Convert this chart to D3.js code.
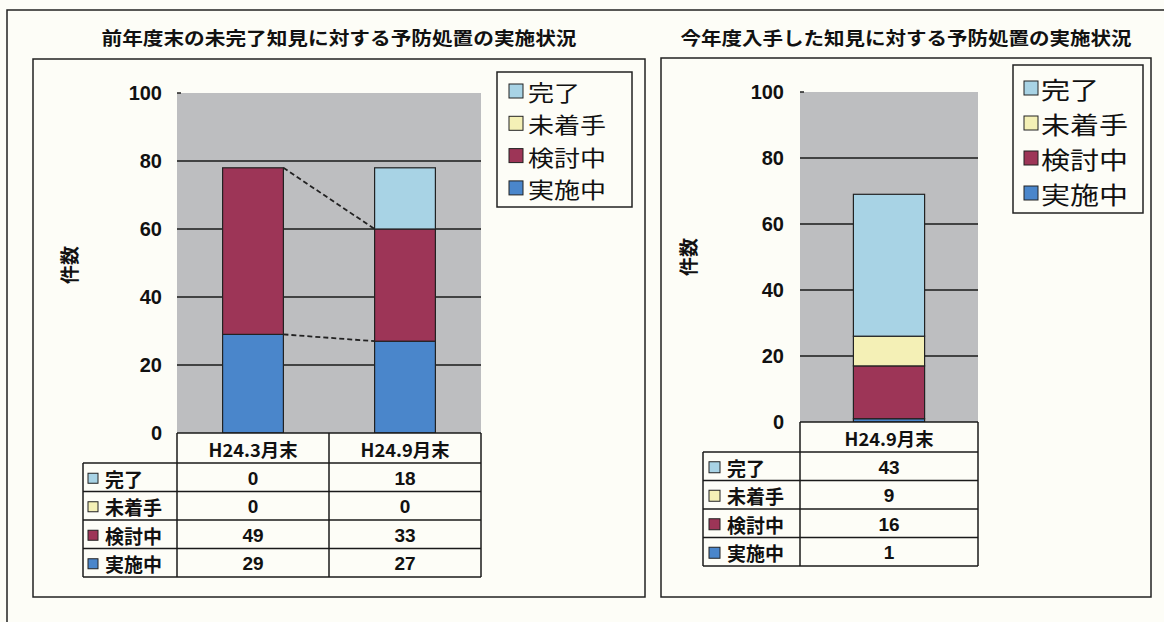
<!DOCTYPE html>
<html>
<head>
<meta charset="utf-8">
<script src="https://cdn.jsdelivr.net/npm/d3@7"></script>
<style>
  html, body { margin: 0; padding: 0; background: #fdfdf7; }
  svg { display: block; }
  text { font-family: "Noto Sans CJK JP", "Liberation Sans", sans-serif; fill: #111; }
</style>
</head>
<body>
<svg id="chart" width="1164" height="622"></svg>
<script>
// ---------------- DATA ----------------
const seriesNames = ["完了", "未着手", "検討中", "実施中"];        // legend / table order
const stackOrder = ["実施中", "検討中", "未着手", "完了"];         // bottom -> top
const seriesColors = ["#a8d3e5", "#f4f0b6", "#9d3557", "#4a86cb"];

const leftTitle = "前年度末の未完了知見に対する予防処置の実施状況";
const leftCategories = ["H24.3月末", "H24.9月末"];
const leftKanryo = [0, 18];
const leftMichakushu = [0, 0];
const leftKentochu = [49, 33];
const leftJisshichu = [29, 27];

const rightTitle = "今年度入手した知見に対する予防処置の実施状況";
const rightCategories = ["H24.9月末"];
const rightKanryo = [43];
const rightMichakushu = [9];
const rightKentochu = [16];
const rightJisshichu = [1];

const yTicks = [0, 20, 40, 60, 80, 100];
const yLabel = "件数";
const seriesLineNames = ["実施中", "検討中"];

// ---------------- DRAW ----------------
const svg = d3.select("#chart");
const color = d3.scaleOrdinal().domain(seriesNames).range(seriesColors);

// outer frame
svg.append("rect").attr("x", 7).attr("y", 10).attr("width", 1200).attr("height", 700)
  .attr("fill", "none").attr("stroke", "#222").attr("stroke-width", 1.5);

function buildRows(cats, arrs) {
  return cats.map((c, i) => {
    const o = { cat: c };
    seriesNames.forEach((s, k) => o[s] = arrs[k][i]);
    return o;
  });
}

function drawPanel(cfg) {
  const g = svg.append("g");
  // panel box
  g.append("rect").attr("x", cfg.box[0]).attr("y", cfg.box[1])
    .attr("width", cfg.box[2] - cfg.box[0]).attr("height", cfg.box[3] - cfg.box[1])
    .attr("fill", "none").attr("stroke", "#222").attr("stroke-width", 1.5);
  // title
  g.append("text").attr("x", (cfg.box[0] + cfg.box[2]) / 2).attr("y", 45)
    .attr("text-anchor", "middle").attr("font-size", 18).attr("font-weight", "bold")
    .attr("textLength", cfg.titleLen).attr("lengthAdjust", "spacingAndGlyphs")
    .text(cfg.title);

  const x = d3.scaleBand().domain(cfg.categories).range([cfg.plot[0], cfg.plot[1]]).padding(0);
  const y = d3.scaleLinear().domain([0, 100]).range([cfg.plot[3], cfg.plot[2]]);

  // plot background
  g.append("rect").attr("x", cfg.plot[0]).attr("y", y(100))
    .attr("width", cfg.plot[1] - cfg.plot[0]).attr("height", y(0) - y(100))
    .attr("fill", "#bdbec0");
  // small top tick
  g.append("line").attr("x1", cfg.plot[0]).attr("x2", cfg.plot[0] + 4)
    .attr("y1", y(100)).attr("y2", y(100)).attr("stroke", "#222").attr("stroke-width", 1.5);

  // gridlines
  g.append("g").selectAll("line").data(yTicks.filter(t => t > 0 && t < 100)).join("line")
    .attr("x1", cfg.plot[0]).attr("x2", cfg.plot[1])
    .attr("y1", d => y(d)).attr("y2", d => y(d))
    .attr("stroke", "#1a1a1a").attr("stroke-width", 1.5);

  // y axis labels
  const ax = g.append("g").attr("transform", `translate(${cfg.tickRight},0)`)
    .call(d3.axisLeft(y).tickValues(yTicks).tickSize(0).tickPadding(0));
  ax.select(".domain").remove();
  ax.selectAll("text").attr("font-size", 20).attr("font-weight", "bold")
    .style("font-family", "'Liberation Sans', Arial, sans-serif").attr("fill", "#111");

  // y label
  g.append("text").attr("transform", `translate(${cfg.yLabelPos[0]},${cfg.yLabelPos[1]}) rotate(-90)`)
    .attr("text-anchor", "middle").attr("dominant-baseline", "central")
    .attr("font-size", 19).attr("font-weight", "bold").text(yLabel);

  // stacked bars
  const rows = buildRows(cfg.categories, cfg.values);
  const stacked = d3.stack().keys(stackOrder)(rows);
  const bw = x.bandwidth() * 0.4;
  const bx = c => x(c) + (x.bandwidth() - bw) / 2;

  // series lines
  if (cfg.categories.length > 1) {
    stacked.filter(s => seriesLineNames.includes(s.key)).forEach(s => {
      for (let i = 0; i < s.length - 1; i++) {
        g.append("line")
          .attr("x1", bx(cfg.categories[i]) + bw).attr("y1", y(s[i][1]))
          .attr("x2", bx(cfg.categories[i + 1])).attr("y2", y(s[i + 1][1]))
          .attr("stroke", "#222").attr("stroke-width", 1.8).attr("stroke-dasharray", "5,3");
      }
    });
  }

  stacked.forEach(s => {
    g.append("g").selectAll("rect").data(s.filter(d => d[1] - d[0] > 0)).join("rect")
      .attr("x", d => bx(d.data.cat)).attr("width", bw)
      .attr("y", d => y(d[1])).attr("height", d => y(d[0]) - y(d[1]))
      .attr("fill", color(s.key)).attr("stroke", "#222").attr("stroke-width", 1.2);
  });

  // legend
  const lg = g.append("g");
  lg.append("rect").attr("x", cfg.legend.x0).attr("y", cfg.legend.y0)
    .attr("width", cfg.legend.x1 - cfg.legend.x0).attr("height", cfg.legend.y1 - cfg.legend.y0)
    .attr("fill", "#fdfdf7").attr("stroke", "#222").attr("stroke-width", 1.5);
  seriesNames.forEach((s, i) => {
    const cy = cfg.legend.firstY + i * cfg.legend.step;
    lg.append("rect").attr("x", cfg.legend.sqX).attr("y", cy - cfg.legend.sq / 2)
      .attr("width", cfg.legend.sq).attr("height", cfg.legend.sq)
      .attr("fill", color(s)).attr("stroke", "#222").attr("stroke-width", 1);
    lg.append("text").attr("x", cfg.legend.textX).attr("y", cy)
      .attr("dominant-baseline", "central").attr("font-size", cfg.legend.fs)
      .attr("textLength", s.length * cfg.legend.charW).attr("lengthAdjust", "spacingAndGlyphs")
      .text(s);
  });

  // data table
  const t = cfg.table;
  const tg = g.append("g");
  const x0 = cfg.plot[0], x1 = cfg.plot[1];
  const top = y(0);
  const rowsTop = top + t.headerH;
  const bottom = rowsTop + seriesNames.length * t.rowH;
  tg.append("rect").attr("x", x0).attr("y", top).attr("width", x1 - x0).attr("height", t.headerH)
    .attr("fill", "#fdfdf7");
  tg.append("rect").attr("x", t.labelX).attr("y", rowsTop).attr("width", x1 - t.labelX)
    .attr("height", bottom - rowsTop).attr("fill", "#fdfdf7");
  const ln = (a, b, c, d) => tg.append("line").attr("x1", a).attr("y1", b).attr("x2", c).attr("y2", d)
    .attr("stroke", "#1a1a1a").attr("stroke-width", 1.5);
  ln(x0, top, x1, top);
  ln(x0, top, x0, bottom);
  ln(x1, top, x1, bottom);
  ln(t.labelX, rowsTop, t.labelX, bottom);
  for (let i = 0; i <= seriesNames.length; i++) {
    ln(t.labelX, rowsTop + i * t.rowH, x1, rowsTop + i * t.rowH);
  }
  cfg.categories.slice(1).forEach(c => ln(x(c), top, x(c), bottom));
  cfg.categories.forEach(c => {
    tg.append("text").attr("x", x(c) + x.bandwidth() / 2).attr("y", top + t.headerH / 2 + 1)
      .attr("text-anchor", "middle").attr("dominant-baseline", "central")
      .attr("font-size", 18).attr("font-weight", "bold")
      .attr("textLength", 89).attr("lengthAdjust", "spacingAndGlyphs").text(c);
  });
  seriesNames.forEach((s, i) => {
    const cy = rowsTop + (i + 0.5) * t.rowH;
    tg.append("rect").attr("x", t.labelX + t.sqOff).attr("y", cy - t.sq / 2 + 1)
      .attr("width", t.sq).attr("height", t.sq)
      .attr("fill", color(s)).attr("stroke", "#222").attr("stroke-width", 1);
    tg.append("text").attr("x", t.labelX + t.textOff).attr("y", cy + 1)
      .attr("dominant-baseline", "central").attr("font-size", 19).attr("font-weight", "bold").text(s);
    rows.forEach(r => {
      tg.append("text").attr("x", x(r.cat) + x.bandwidth() / 2).attr("y", cy + 1)
        .attr("text-anchor", "middle").attr("dominant-baseline", "central")
        .attr("font-size", 19).attr("font-weight", "bold")
        .style("font-family", "'Liberation Sans', Arial, sans-serif").text(r[s]);
    });
  });
}

drawPanel({
  title: leftTitle, titleLen: 475,
  box: [33, 59, 645, 597],
  plot: [177, 481, 93, 433],
  tickRight: 162,
  yLabelPos: [68, 265],
  categories: leftCategories,
  values: [leftKanryo, leftMichakushu, leftKentochu, leftJisshichu],
  legend: { x0: 497, x1: 632, y0: 72, y1: 207, firstY: 91, step: 32.3, sqX: 509, sq: 14, textX: 528, fs: 22, charW: 26 },
  table: { labelX: 83, headerH: 30, rowH: 28.5, sq: 10, sqOff: 5, textOff: 22 }
});

drawPanel({
  title: rightTitle, titleLen: 451,
  box: [661, 58, 1151, 597],
  plot: [800, 978, 92, 422],
  tickRight: 784,
  yLabelPos: [687, 257],
  categories: rightCategories,
  values: [rightKanryo, rightMichakushu, rightKentochu, rightJisshichu],
  legend: { x0: 1013, x1: 1143, y0: 65, y1: 213, firstY: 88, step: 35, sqX: 1024, sq: 14, textX: 1041, fs: 24, charW: 29 },
  table: { labelX: 703, headerH: 30, rowH: 28.5, sq: 11, sqOff: 6, textOff: 24 }
});
</script>
</body>
</html>
